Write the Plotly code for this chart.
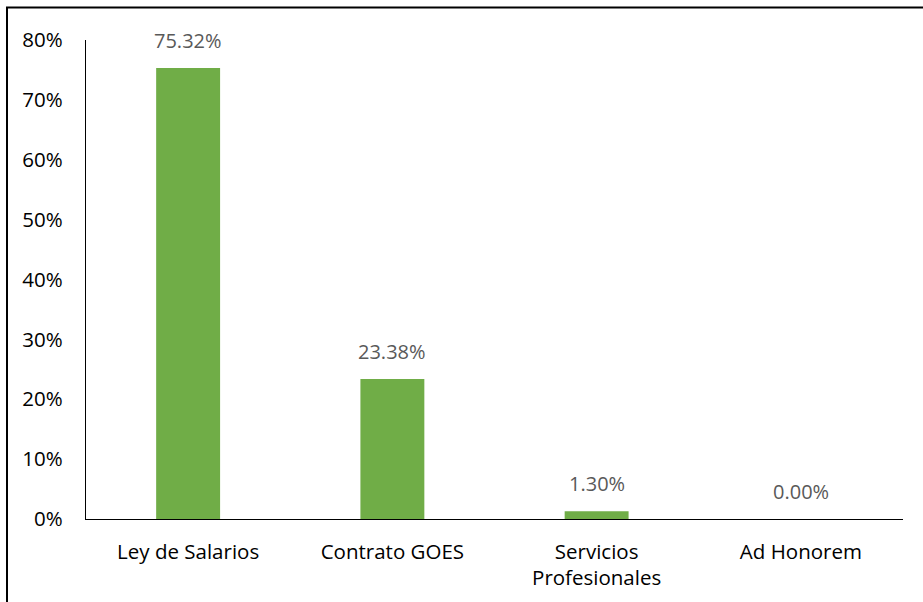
import plotly.graph_objects as go

categories = ["Ley de Salarios", "Contrato GOES", "Servicios<br>Profesionales", "Ad Honorem"]
values = [75.32, 23.38, 1.30, 0.00]
y_ticks = [0, 10, 20, 30, 40, 50, 60, 70, 80]
y_tick_labels = [f"{t}%" for t in y_ticks]

W, H = 923, 602
L, R, T, B = 86, 20, 40, 83
pw, ph = W - L - R, H - T - B
FS = 20.5

fig = go.Figure(
    go.Bar(
        x=categories,
        y=values,
        marker=dict(color="#70AD47", line=dict(width=0)),
        hoverinfo="skip",
    )
)

# value labels above each bar
for c, v in zip(categories, values):
    fig.add_annotation(
        x=c, y=v, text=f"{v:.2f}%", showarrow=False,
        yanchor="bottom", yshift=12,
        font=dict(family="Open Sans", size=20, color="#595959"),
    )

# outer frame (left and top edges)
def px_x(x):
    return (x - L) / pw

def px_y(y):
    return (H - B - y) / ph

fig.add_shape(type="line", xref="paper", yref="paper",
              x0=px_x(7), x1=px_x(7), y0=px_y(7), y1=px_y(602),
              line=dict(color="black", width=2))
fig.add_shape(type="line", xref="paper", yref="paper",
              x0=px_x(6), x1=px_x(923), y0=px_y(7.5), y1=px_y(7.5),
              line=dict(color="black", width=2))

fig.update_layout(
    width=W, height=H,
    margin=dict(l=L, r=R, t=T, b=B),
    paper_bgcolor="white", plot_bgcolor="white",
    bargap=0.687,
    showlegend=False,
    font=dict(family="Open Sans", size=FS, color="black"),
    xaxis=dict(
        showline=True, linecolor="black", linewidth=1.3,
        showgrid=False, ticks="", ticklabelstandoff=14,
        tickfont=dict(size=FS, color="black"), fixedrange=True,
    ),
    yaxis=dict(
        range=[0, 80], tickvals=y_ticks, ticktext=y_tick_labels,
        showline=True, linecolor="black", linewidth=1.3,
        showgrid=False, zeroline=False, ticks="", ticklabelstandoff=18,
        tickfont=dict(size=FS, color="black"), fixedrange=True,
    ),
)

fig.write_html("out.html", config={"displayModeBar": False})
